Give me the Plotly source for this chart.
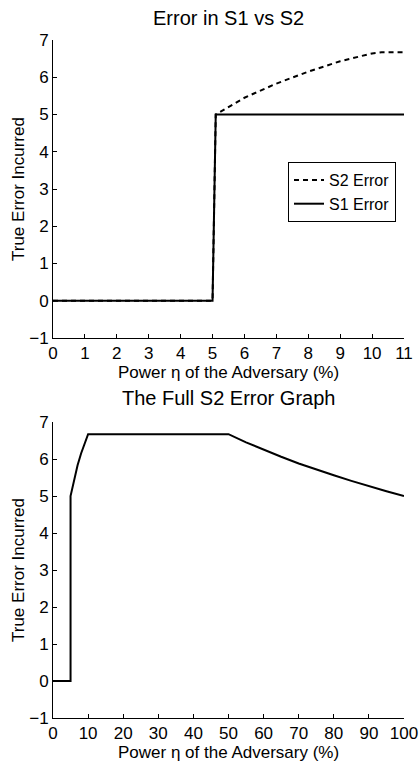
import plotly.graph_objects as go

# ---- data ----
eta_top = [0, 5, 5.1, 6, 7, 8, 9, 10, 10.3, 11]
s2_top = [0, 0, 5, 5.45, 5.83, 6.15, 6.43, 6.64, 6.67, 6.67]
eta_s1 = [0, 5, 5.1, 11]
s1_top = [0, 0, 5, 5]

eta_full = [0, 5, 5, 6, 7, 8, 9, 10, 20, 30, 40, 50, 55, 60, 65, 70, 75, 80, 85, 90, 95, 100]
s2_full = [0, 0, 5, 5.45, 5.83, 6.15, 6.43, 6.67, 6.67, 6.67, 6.67, 6.67,
           6.45, 6.25, 6.06, 5.88, 5.71, 5.56, 5.41, 5.26, 5.13, 5.0]

title_top = "Error in S1 vs S2"
title_bottom = "The Full S2 Error Graph"
xlabel = "Power η of the Adversary (%)"
ylabel = "True Error Incurred"

W, H = 419, 762
L, R = 53, 404
top_y0, top_y1 = 40, 338
bot_y0, bot_y1 = 422, 718

def fy(p):
    return 1 - p / H

def fx(p):
    return (p - L) / (R - L)

FONT = "Liberation Sans, Arial, Helvetica, sans-serif"

fig = go.Figure()
fig.add_trace(go.Scatter(x=eta_top, y=s2_top, mode="lines", name="S2 Error",
                         line=dict(color="black", width=2, dash="5px,4px"),
                         xaxis="x", yaxis="y"))
fig.add_trace(go.Scatter(x=eta_s1, y=s1_top, mode="lines", name="S1 Error",
                         line=dict(color="black", width=2),
                         xaxis="x", yaxis="y"))
fig.add_trace(go.Scatter(x=eta_full, y=s2_full, mode="lines", name="S2 Full",
                         showlegend=False,
                         line=dict(color="black", width=2),
                         xaxis="x2", yaxis="y2"))

axis_common = dict(showline=True, linecolor="black", linewidth=1, mirror=False,
                   ticks="inside", ticklen=4, tickwidth=1, tickcolor="black",
                   showgrid=False, zeroline=False, automargin=False,
                   tickfont=dict(family=FONT, size=17, color="black"))

fig.update_layout(
    template="none",
    width=W, height=H,
    margin=dict(l=L, r=W - R, t=0, b=0, autoexpand=False),
    paper_bgcolor="white", plot_bgcolor="white",
    font=dict(family=FONT, size=17, color="black"),
    xaxis=dict(domain=[0, 1], range=[0, 11], dtick=1, tick0=0, anchor="y", **axis_common),
    yaxis=dict(domain=[fy(top_y1), fy(top_y0)], range=[-1, 7], dtick=1, tick0=0, anchor="x", **axis_common),
    xaxis2=dict(domain=[0, 1], range=[0, 100], dtick=10, tick0=0, anchor="y2", **axis_common),
    yaxis2=dict(domain=[fy(bot_y1), fy(bot_y0)], range=[-1, 7], dtick=1, tick0=0, anchor="x2", **axis_common),
    showlegend=True,
    legend=dict(x=fx(396), y=fy(162), xanchor="right", yanchor="top",
                bordercolor="black", borderwidth=1, bgcolor="white",
                font=dict(family=FONT, size=16, color="black"),
                tracegroupgap=0, itemwidth=30),
)

annos = [
    dict(text=title_top, x=fx(228), y=fy(18), font=dict(size=20)),
    dict(text=title_bottom, x=fx(228), y=fy(398), font=dict(size=20)),
    dict(text=xlabel, x=fx(228), y=fy(373), font=dict(size=17)),
    dict(text=xlabel, x=fx(228), y=fy(752), font=dict(size=17)),
    dict(text=ylabel, x=fx(18), y=fy(189), font=dict(size=17), textangle=-90),
    dict(text=ylabel, x=fx(18), y=fy(570), font=dict(size=17), textangle=-90),
]
for a in annos:
    fig.add_annotation(xref="paper", yref="paper", showarrow=False,
                       xanchor="center", yanchor="middle",
                       font_family=FONT, font_color="black", **a)

fig.write_html("out.html", config={"displayModeBar": False},
               post_script="document.body.style.margin='0';document.body.style.overflow='hidden';")
